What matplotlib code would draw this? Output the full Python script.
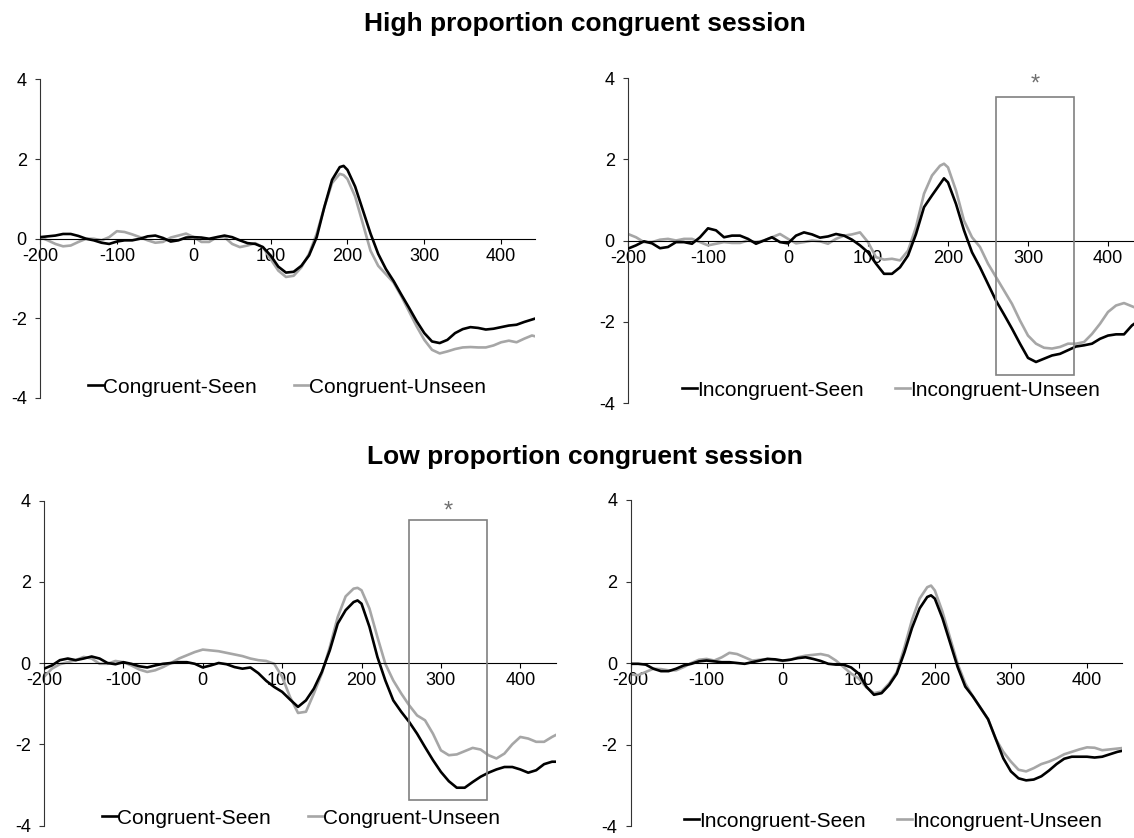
import matplotlib
matplotlib.use("Agg")
import matplotlib.pyplot as plt
from matplotlib.patches import Rectangle

plt.rcParams['font.family'] = ['Liberation Sans', 'DejaVu Sans']
plt.rcParams['axes.unicode_minus'] = False

# time axis (ms)
t = list(range(-200, 191, 10)) + [195] + list(range(200, 451, 10))

# High proportion congruent session
hp_cong_seen = [0.04, 0.06, 0.08, 0.12, 0.12, 0.07, 0.0, -0.04, -0.10, -0.13,
                -0.07, -0.04, -0.04, 0.0, 0.06, 0.08, 0.02, -0.07, -0.04, 0.03,
                0.04, 0.03, 0.0, 0.04, 0.08, 0.04, -0.04, -0.11, -0.13, -0.21,
                -0.42, -0.70, -0.85, -0.83, -0.68, -0.42, 0.04, 0.80, 1.48, 1.80,
                1.83,
                1.73, 1.31, 0.72, 0.13, -0.38, -0.76, -1.06, -1.40, -1.73, -2.07,
                -2.37, -2.58, -2.62, -2.54, -2.37, -2.27, -2.22, -2.24, -2.28, -2.26,
                -2.22, -2.18, -2.16, -2.09, -2.03, -1.97]
hp_cong_unseen = [0.04, -0.04, -0.13, -0.19, -0.17, -0.08, 0.0, 0.0, -0.04, 0.04,
                  0.19, 0.17, 0.11, 0.04, -0.04, -0.10, -0.08, 0.03, 0.08, 0.13,
                  0.04, -0.08, -0.08, 0.04, 0.04, -0.13, -0.21, -0.17, -0.11, -0.21,
                  -0.51, -0.80, -0.96, -0.93, -0.72, -0.38, 0.13, 0.80, 1.40, 1.63,
                  1.60,
                  1.50, 1.06, 0.38, -0.30, -0.68, -0.89, -1.10, -1.44, -1.82, -2.20,
                  -2.54, -2.79, -2.88, -2.83, -2.77, -2.73, -2.72, -2.73, -2.73, -2.68,
                  -2.60, -2.56, -2.60, -2.51, -2.43, -2.48]
hp_incong_seen = [-0.20, -0.12, -0.02, -0.07, -0.19, -0.16, -0.04, -0.04, -0.08, 0.08,
                  0.30, 0.25, 0.08, 0.12, 0.12, 0.04, -0.08, 0.0, 0.08, -0.04,
                  -0.07, 0.12, 0.20, 0.15, 0.07, 0.10, 0.16, 0.12, 0.02, -0.12,
                  -0.29, -0.57, -0.82, -0.82, -0.66, -0.37, 0.16, 0.82, 1.11, 1.39,
                  1.53,
                  1.43, 0.90, 0.25, -0.29, -0.66, -1.07, -1.48, -1.82, -2.17, -2.54,
                  -2.89, -2.99, -2.91, -2.83, -2.79, -2.70, -2.61, -2.58, -2.54, -2.42,
                  -2.34, -2.31, -2.31, -2.09, -1.95, -1.85]
hp_incong_unseen = [0.16, 0.08, -0.04, -0.04, 0.02, 0.04, 0.0, 0.04, 0.04, -0.04,
                    -0.12, -0.08, -0.04, -0.06, -0.06, 0.0, -0.04, 0.0, 0.08, 0.16,
                    0.04, -0.07, -0.04, 0.0, -0.02, -0.08, 0.04, 0.12, 0.15, 0.20,
                    -0.04, -0.41, -0.47, -0.45, -0.49, -0.25, 0.33, 1.15, 1.60, 1.84,
                    1.89,
                    1.80, 1.23, 0.49, 0.08, -0.16, -0.57, -0.90, -1.23, -1.56, -1.97,
                    -2.34, -2.54, -2.64, -2.66, -2.62, -2.54, -2.54, -2.50, -2.30, -2.05,
                    -1.76, -1.60, -1.54, -1.62, -1.70, -1.75]

# Low proportion congruent session
lp_cong_seen = [-0.14, -0.06, 0.07, 0.11, 0.07, 0.11, 0.16, 0.11, 0.0, -0.03,
                0.02, -0.02, -0.08, -0.11, -0.06, -0.02, 0.0, 0.02, 0.02, -0.02,
                -0.11, -0.06, 0.0, -0.03, -0.10, -0.14, -0.11, -0.25, -0.44, -0.59,
                -0.71, -0.90, -1.08, -0.92, -0.63, -0.22, 0.31, 0.97, 1.30, 1.50,
                1.54,
                1.46, 0.89, 0.15, -0.43, -0.92, -1.20, -1.45, -1.74, -2.07, -2.39,
                -2.68, -2.91, -3.07, -3.07, -2.93, -2.80, -2.70, -2.62, -2.56, -2.56,
                -2.62, -2.70, -2.64, -2.49, -2.43, -2.43]
lp_cong_unseen = [-0.34, -0.14, -0.03, 0.02, 0.07, 0.15, 0.11, -0.02, -0.02, 0.05,
                  0.02, -0.06, -0.16, -0.22, -0.18, -0.10, 0.0, 0.11, 0.19, 0.27,
                  0.33, 0.31, 0.29, 0.25, 0.21, 0.17, 0.11, 0.07, 0.05, -0.02,
                  -0.34, -0.84, -1.23, -1.20, -0.75, -0.26, 0.39, 1.13, 1.64, 1.83,
                  1.85,
                  1.79, 1.34, 0.64, -0.02, -0.43, -0.75, -1.04, -1.29, -1.41, -1.74,
                  -2.15, -2.27, -2.25, -2.17, -2.09, -2.13, -2.27, -2.35, -2.23, -2.00,
                  -1.82, -1.86, -1.94, -1.94, -1.82, -1.72]
lp_incong_seen = [-0.02, -0.02, -0.04, -0.14, -0.20, -0.20, -0.14, -0.06, -0.02, 0.04,
                  0.06, 0.04, 0.02, 0.02, 0.0, -0.02, 0.02, 0.06, 0.10, 0.09,
                  0.06, 0.08, 0.12, 0.14, 0.10, 0.05, -0.02, -0.04, -0.04, -0.11,
                  -0.26, -0.58, -0.78, -0.74, -0.54, -0.26, 0.26, 0.86, 1.34, 1.62,
                  1.66,
                  1.58, 1.10, 0.50, -0.10, -0.58, -0.82, -1.10, -1.38, -1.86, -2.34,
                  -2.66, -2.83, -2.88, -2.86, -2.78, -2.64, -2.48, -2.35, -2.30, -2.30,
                  -2.30, -2.32, -2.30, -2.24, -2.18, -2.14]
lp_incong_unseen = [-0.28, -0.30, -0.22, -0.14, -0.15, -0.18, -0.18, -0.10, 0.0, 0.08,
                    0.10, 0.06, 0.14, 0.25, 0.22, 0.14, 0.06, 0.08, 0.10, 0.08,
                    0.05, 0.08, 0.14, 0.18, 0.20, 0.22, 0.18, 0.06, -0.10, -0.26,
                    -0.38, -0.60, -0.74, -0.70, -0.50, -0.22, 0.38, 1.06, 1.58, 1.86,
                    1.90,
                    1.78, 1.26, 0.62, -0.02, -0.50, -0.82, -1.10, -1.38, -1.86, -2.18,
                    -2.42, -2.62, -2.66, -2.58, -2.48, -2.42, -2.34, -2.24, -2.18, -2.12,
                    -2.07, -2.08, -2.14, -2.12, -2.10, -2.08]

xticks = [-200, -100, 0, 100, 200, 300, 400]
yticks = [-4, -2, 0, 2, 4]

BLACK = "#000000"
GRAY = "#a6a6a6"
BOX = "#808080"

W, H = 1134, 838
fig = plt.figure(figsize=(W / 100, H / 100), dpi=100, facecolor='white')


def px_axes(l, r, top, bot):
    return fig.add_axes([l / W, 1 - bot / H, (r - l) / W, (bot - top) / H])


def panel(ax, xmax, seen, unseen, labels, leg_xy, colspace):
    ax.plot(t, seen, color=BLACK, lw=1.9, label=labels[0], zorder=3,
            solid_joinstyle='round')
    ax.plot(t, unseen, color=GRAY, lw=1.9, label=labels[1], zorder=2,
            solid_joinstyle='round')
    ax.set_xlim(-200, xmax)
    ax.set_ylim(-4, 4)
    ax.spines['top'].set_visible(False)
    ax.spines['right'].set_visible(False)
    ax.spines['bottom'].set_position(('data', 0))
    ax.spines['bottom'].set_linewidth(0.8)
    ax.spines['left'].set_linewidth(0.8)
    ax.spines['left'].set_color('#333333')
    ax.set_xticks(xticks)
    ax.set_yticks(yticks)
    ax.tick_params(axis='x', direction='out', length=3.5, width=0.8,
                   labelsize=13, pad=3)
    ax.tick_params(axis='y', direction='out', length=3.5, width=0.8,
                   labelsize=13, pad=6, color='#333333')
    ax.patch.set_visible(False)
    ax.legend(loc='center left', bbox_to_anchor=(leg_xy[0] / W, 1 - leg_xy[1] / H),
              bbox_transform=fig.transFigure, ncol=2, frameon=False,
              handlelength=0.72, handletextpad=0.0, columnspacing=colspace,
              borderpad=0, borderaxespad=0, fontsize=15)


def sig_box(ax, x0, x1, y0, y1, star_y):
    ax.add_patch(Rectangle((x0, y0), x1 - x0, y1 - y0, fill=False,
                           edgecolor=BOX, lw=1.2, zorder=4, clip_on=False))
    ax.text((x0 + x1) / 2, star_y, "*", ha='center', va='center',
            fontsize=17, color='#707070', clip_on=False)


ax_tl = px_axes(40, 535, 79.5, 398)
ax_tr = px_axes(628, 1134, 78, 403)
ax_bl = px_axes(44, 556, 500.5, 825.5)
ax_br = px_axes(630.5, 1122, 500, 826)

panel(ax_tl, 444, hp_cong_seen, hp_cong_unseen,
      ["Congruent-Seen", "Congruent-Unseen"], (88, 387), 1.8)
panel(ax_tr, 432.5, hp_incong_seen, hp_incong_unseen,
      ["Incongruent-Seen", "Incongruent-Unseen"], (682, 390), 1.5)
panel(ax_bl, 445, lp_cong_seen, lp_cong_unseen,
      ["Congruent-Seen", "Congruent-Unseen"], (102, 818), 1.8)
panel(ax_br, 446, lp_incong_seen, lp_incong_unseen,
      ["Incongruent-Seen", "Incongruent-Unseen"], (684, 821), 1.5)

sig_box(ax_tr, 260, 357, -3.32, 3.53, 3.85)
sig_box(ax_bl, 260, 358, -3.37, 3.52, 3.72)

fig.text(585 / W, 1 - 24 / H, "High proportion congruent session",
         ha='center', va='center', fontsize=19, fontweight='bold')
fig.text(585 / W, 1 - 457 / H, "Low proportion congruent session",
         ha='center', va='center', fontsize=19, fontweight='bold')

fig.savefig("out.png", dpi=100, facecolor='white')
